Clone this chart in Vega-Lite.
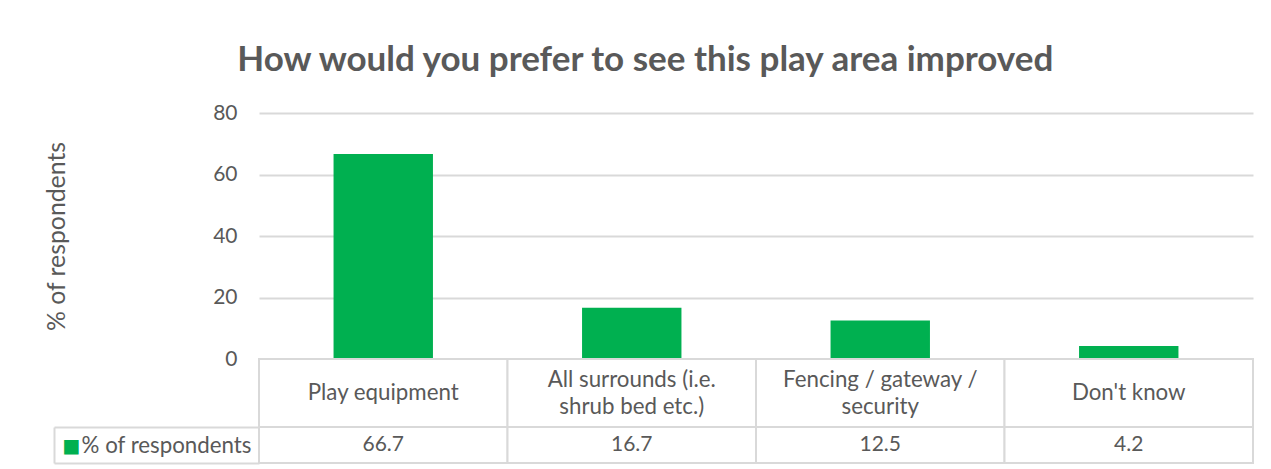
{
  "$schema": "https://vega.github.io/schema/vega-lite/v6.json",
  "background": "white",
  "padding": {"left": 44, "top": 43, "right": 5, "bottom": 2},
  "bounds": "flush",
  "spacing": 0,
  "title": {
    "text": "How would you prefer to see this play area improved",
    "font": "Lato",
    "fontWeight": "bold",
    "fontSize": 35,
    "color": "#595959",
    "anchor": "middle",
    "frame": "bounds",
    "offset": 24,
    "dx": -4
  },
  "datasets": {
    "d": [
      {"category": "Play equipment", "label": "Play equipment", "series": "% of respondents", "value": 66.7},
      {"category": "All surrounds (i.e. shrub bed etc.)", "label": "All surrounds (i.e.\nshrub bed etc.)", "series": "% of respondents", "value": 16.7},
      {"category": "Fencing / gateway / security", "label": "Fencing / gateway /\nsecurity", "series": "% of respondents", "value": 12.5},
      {"category": "Don't know", "label": "Don't know", "series": "% of respondents", "value": 4.2}
    ]
  },
  "config": {
    "font": "Lato",
    "view": {"stroke": null},
    "axis": {"labelFont": "Lato", "titleFont": "Lato", "labelColor": "#595959", "titleColor": "#595959"}
  },
  "vconcat": [
    {
      "width": 994,
      "height": 246,
      "data": {"name": "d"},
      "mark": {"type": "bar", "color": "#00b050"},
      "encoding": {
        "x": {
          "field": "category",
          "type": "nominal",
          "sort": null,
          "scale": {"paddingInner": 0.6, "paddingOuter": 0.3},
          "axis": null
        },
        "y": {
          "field": "value",
          "type": "quantitative",
          "scale": {"domain": [0, 80]},
          "axis": {
            "title": "% of respondents",
            "values": [0, 20, 40, 60, 80],
            "grid": true,
            "gridColor": "#d9d9d9",
            "gridWidth": 2,
            "domain": false,
            "ticks": false,
            "labelPadding": 22,
            "labelFontSize": 21,
            "titleFontSize": 24.8,
            "titleFontWeight": "normal",
            "titlePadding": 143
          }
        }
      }
    },
    {
      "width": 994,
      "height": 68,
      "data": {"name": "d"},
      "encoding": {
        "x": {
          "field": "category",
          "type": "nominal",
          "sort": null,
          "scale": {"paddingInner": 0, "paddingOuter": 0},
          "axis": null
        },
        "y": {
          "field": "series",
          "type": "nominal",
          "scale": {"paddingInner": 0, "paddingOuter": 0},
          "axis": null
        }
      },
      "layer": [
        {"mark": {"type": "rect", "fill": "white", "stroke": "#d9d9d9", "strokeWidth": 2}},
        {
          "transform": [{"filter": "indexof(datum.label, '\\n') < 0"}],
          "mark": {"type": "text", "fontSize": 22.3, "color": "#595959", "font": "Lato"},
          "encoding": {"text": {"field": "label"}}
        },
        {
          "transform": [{"filter": "indexof(datum.label, '\\n') >= 0"}],
          "mark": {"type": "text", "lineBreak": "\n", "fontSize": 22.3, "lineHeight": 26.5, "dy": -13, "color": "#595959", "font": "Lato"},
          "encoding": {"text": {"field": "label"}}
        }
      ]
    },
    {
      "width": 994,
      "height": 36,
      "data": {"name": "d"},
      "encoding": {
        "x": {
          "field": "category",
          "type": "nominal",
          "sort": null,
          "scale": {"paddingInner": 0, "paddingOuter": 0},
          "axis": null
        },
        "y": {
          "field": "series",
          "type": "nominal",
          "scale": {"paddingInner": 0, "paddingOuter": 0},
          "axis": {
            "title": "■",
            "titleFont": "DejaVu Sans",
            "titleFontSize": 19,
            "titleFontWeight": "normal",
            "titleColor": "#00b050",
            "titleAngle": 0,
            "titleAlign": "right",
            "titleBaseline": "middle",
            "titlePadding": -27,
            "offset": 205,
            "domain": true,
            "domainColor": "#d9d9d9",
            "domainWidth": 2,
            "ticks": true,
            "tickBand": "extent",
            "tickSize": -205,
            "tickColor": "#d9d9d9",
            "tickWidth": 2,
            "labelPadding": 8,
            "labelFontSize": 22.3,
            "grid": false
          }
        }
      },
      "layer": [
        {"mark": {"type": "rect", "fill": "white", "stroke": "#d9d9d9", "strokeWidth": 2}},
        {
          "mark": {"type": "text", "fontSize": 21, "color": "#595959", "font": "Lato"},
          "encoding": {"text": {"field": "value", "type": "quantitative", "format": ".1f"}}
        }
      ]
    }
  ]
}
